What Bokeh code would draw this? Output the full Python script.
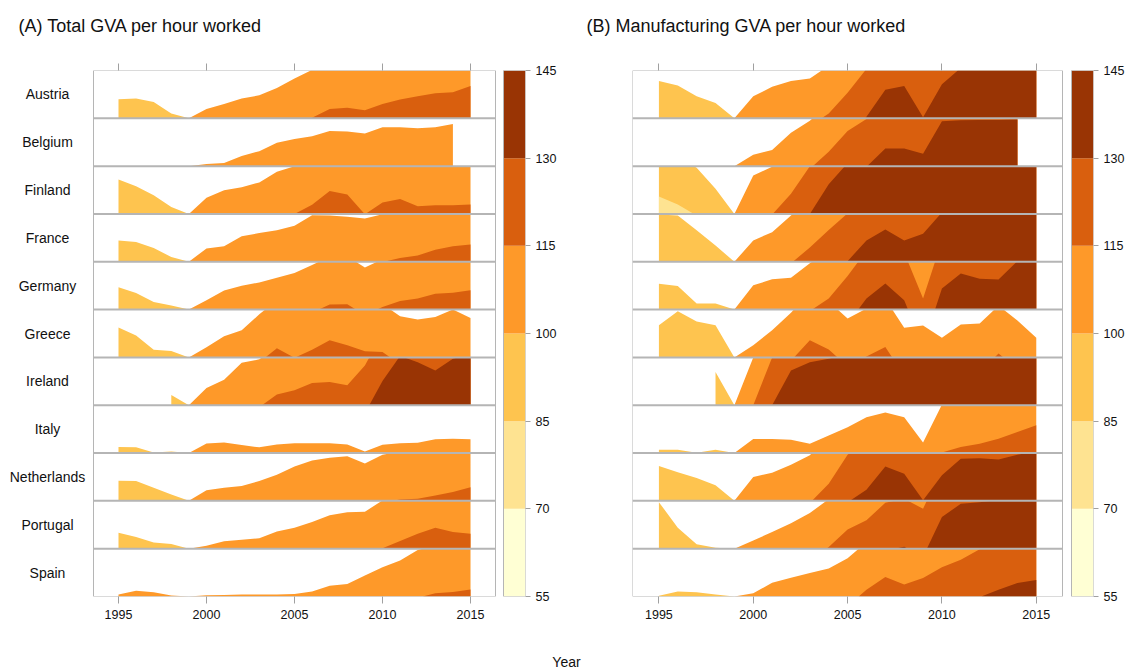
from bokeh.plotting import figure
from bokeh.models import Range1d, LinearAxis, FixedTicker, ColumnDataSource
from bokeh.layouts import row, column
from bokeh.embed import file_html
from bokeh.resources import INLINE
from bokeh.core.properties import value

# Labour productivity indices (1999 = 100), 1995-2015
years = list(range(1995, 2016))
countries = ["Austria", "Belgium", "Finland", "France", "Germany", "Greece",
             "Ireland", "Italy", "Netherlands", "Portugal", "Spain"]
panel_titles = ["(A) Total GVA per hour worked", "(B) Manufacturing GVA per hour worked"]

# (A) Total GVA per hour worked
austria_total = [94.0, 93.8, 94.9, 98.5, 100, 102.9, 104.5, 106.2, 107.2, 109.5, 112.5,
                 115.2, 117.9, 118.3, 117.5, 119.5, 120.9, 121.9, 122.9, 123.2, 125.1]
belgium_total = [None, None, None, None, 100, 100.7, 101.0, 103.2, 104.7, 107.3, 108.5,
                 109.4, 111.0, 110.9, 110.2, 112.2, 112.2, 111.9, 112.2, 113.2, None]
finland_total = [89.2, 91.3, 94.1, 97.8, 100, 105.1, 107.4, 108.4, 109.9, 113.2, 115.0,
                 117.9, 122.2, 121.1, 114.9, 118.6, 119.7, 117.4, 117.7, 117.7, 118.0]
france_total = [93.3, 93.8, 95.7, 98.5, 100, 104.2, 104.9, 108.0, 109.0, 109.9, 111.3,
                114.6, 114.5, 114.1, 113.6, 114.9, 116.2, 117.0, 118.8, 119.9, 120.4]
germany_total = [93.0, 94.8, 97.6, 98.7, 100, 102.9, 106.0, 107.5, 108.5, 110.0, 111.5,
                 114.0, 116.6, 116.7, 113.2, 115.8, 117.7, 118.5, 120.0, 120.3, 121.1]
greece_total = [90.6, 93.1, 97.6, 98.0, 100, 103.2, 106.6, 108.5, 113.5, 117.9, 114.9,
                117.4, 120.4, 118.8, 116.9, 116.7, 112.9, 111.9, 112.7, 115.0, 112.4]
ireland_total = [None, None, None, 96.8, 100, 105.4, 108.0, 113.3, 114.4, 118.4, 119.7,
                 122.0, 122.3, 121.3, 127.5, 137.6, 145.5, 143.5, 140.9, 144.6, 146.0]
italy_total = [98.1, 98.2, 99.8, 99.5, 100, 103.0, 103.3, 102.5, 101.8, 102.7, 103.1,
               103.1, 103.1, 102.7, 100.5, 102.6, 103.1, 103.2, 104.3, 104.5, 104.3]
netherlands_total = [93.7, 93.8, 95.9, 98.0, 100, 103.3, 104.1, 104.7, 106.2, 108.2, 110.8,
                     112.7, 113.5, 114.0, 111.7, 114.5, 115.4, 115.7, 116.7, 117.8, 119.3]
portugal_total = [95.0, 96.3, 98.1, 98.5, 100, 100.9, 102.3, 102.8, 103.3, 105.4, 106.6,
                  108.4, 110.5, 111.4, 111.6, 115.1, 117.4, 119.7, 121.6, 120.2, 119.7]
spain_total = [100.6, 101.8, 101.3, 100.3, 100, 100.4, 100.5, 100.6, 100.6, 100.6, 100.8,
               101.6, 103.4, 103.9, 106.6, 109.2, 111.3, 114.6, 116.0, 116.4, 117.2]

# (B) Manufacturing GVA per hour worked
austria_mfg = [88.3, 89.7, 93.1, 95.2, 100, 106.9, 109.9, 111.7, 112.5, 116.5, 123.0,
               130.5, 139.0, 140.1, 130.3, 140.7, 145.8, 147.0, 147.5, 148.2, 149.0]
belgium_mfg = [None, None, None, None, 100, 103.6, 105.1, 110.5, 114.2, 119.5, 126.0,
               129.8, 135.5, 135.5, 133.9, 144.1, 144.4, 144.5, 144.5, 144.6, None]
finland_mfg = [79.5, 82.0, 85.5, 92.1, 100, 112.1, 114.8, 121.3, 130.0, 139.3, 146.0,
               147.0, 149.0, 150.0, 146.0, 150.0, 151.0, 150.0, 151.0, 151.0, 152.0]
france_mfg = [85.2, 85.5, 90.1, 94.9, 100, 106.7, 109.3, 114.5, 119.5, 125.0, 130.2,
              136.7, 140.1, 136.7, 138.8, 145.5, 146.0, 147.0, 148.0, 149.0, 150.0]
germany_mfg = [91.9, 92.6, 98.1, 98.1, 100, 107.6, 109.5, 110.0, 114.5, 118.5, 125.5,
               133.5, 138.2, 132.9, 118.5, 136.6, 141.3, 139.7, 139.4, 145.2, 146.0]
greece_mfg = [89.9, 85.5, 88.7, 89.9, 100, 103.8, 108.5, 114.0, 120.4, 117.5, 112.2,
              115.3, 118.3, 109.3, 110.0, 106.2, 110.3, 110.6, 116.2, 111.6, 106.2]
ireland_mfg = [None, None, None, 89.6, 100, 115.0, 130.0, 140.9, 143.5, 144.6, 146.0,
               147.0, 148.0, 148.0, 150.0, 150.0, 152.0, 153.0, 153.0, 154.0, 156.0]
italy_mfg = [99.0, 99.0, 99.9, 99.0, 100, 104.4, 104.4, 104.2, 102.9, 105.5, 108.1,
             111.2, 112.7, 111.2, 103.3, 115.2, 116.9, 117.9, 119.5, 121.6, 123.7]
netherlands_mfg = [89.1, 91.0, 92.8, 95.1, 100, 107.5, 108.8, 111.3, 114.3, 120.4, 129.5,
                   133.5, 140.8, 138.5, 130.2, 138.0, 143.2, 143.4, 143.0, 144.5, 145.5]
portugal_mfg = [85.4, 93.4, 98.6, 99.7, 100, 102.6, 105.2, 108.0, 111.2, 115.5, 121.0,
                123.9, 129.4, 130.6, 127.5, 139.9, 144.1, 144.6, 145.2, 146.0, 146.0]
spain_mfg = [99.8, 98.4, 98.7, 99.4, 100, 101.0, 104.3, 105.9, 107.4, 108.8, 112.0,
             117.1, 121.1, 118.8, 120.8, 124.2, 126.5, 129.8, 132.1, 134.2, 135.2]

total_series = [austria_total, belgium_total, finland_total, france_total, germany_total,
                greece_total, ireland_total, italy_total, netherlands_total,
                portugal_total, spain_total]
mfg_series = [austria_mfg, belgium_mfg, finland_mfg, france_mfg, germany_mfg,
              greece_mfg, ireland_mfg, italy_mfg, netherlands_mfg,
              portugal_mfg, spain_mfg]

year_ticks = [1995, 2000, 2005, 2010, 2015]

# horizon settings: origin 100, bands 15 wide, three on each side
ORIGIN = 100
BAND = 15
cb_ticks = [55, 70, 85, 100, 115, 130, 145]
palette = ["#FFFFD4", "#FEE391", "#FEC44F", "#FE9929", "#D95F0E", "#993404"]
above_cols = palette[3:]
below_cols = palette[2::-1]

FONT = "Liberation Sans"
LINE_GREY = "#b5b5b5"
TICK_GREY = "#a0a0a0"
TEXT = "#111111"
N = len(countries)

PAGE_W, PAGE_H = 1128, 668
HEAD_H, FOOT_H = 50, 30
PANEL_H = PAGE_H - HEAD_H - FOOT_H
FRAME_TOP, FRAME_H = 70 - HEAD_H, 526


def densify(xs, vs):
    """Insert the points where the series crosses a band edge."""
    dx, dv = [xs[0]], [vs[0]]
    for x0, v0, x1, v1 in zip(xs, vs, xs[1:], vs[1:]):
        cuts = sorted(x0 + (L - v0) / (v1 - v0) * (x1 - x0)
                      for L in cb_ticks if (v0 - L) * (v1 - L) < 0)
        for c in cuts:
            dx.append(c)
            dv.append(v0 + (c - x0) / (x1 - x0) * (v1 - v0))
        dx.append(x1)
        dv.append(v1)
    return dx, dv


def strip(height):
    """A blank full-width band used for page-level captions."""
    s = figure(width=PAGE_W, height=height, output_backend="svg", toolbar_location=None,
               x_range=Range1d(0, PAGE_W), y_range=Range1d(0, height),
               x_axis_location=None, y_axis_location=None,
               min_border_left=0, min_border_right=0,
               min_border_top=0, min_border_bottom=0)
    s.outline_line_color = None
    s.xgrid.visible = False
    s.ygrid.visible = False
    return s


def make_panel(series, width, frame_left, panel_left, panel_w, gap, bar, xlo, xhi,
               with_names):
    frame_right = panel_left + panel_w + gap + bar
    ppy = panel_w / (xhi - xlo)
    xstart = xlo - (panel_left - frame_left) / ppy
    xend = xhi + (gap + bar) / ppy
    p = figure(width=width, height=PANEL_H, output_backend="svg", toolbar_location=None,
               x_range=Range1d(xstart, xend), y_range=Range1d(0, N),
               x_axis_location=None, y_axis_location=None,
               min_border_left=frame_left, min_border_right=width - frame_right,
               min_border_top=FRAME_TOP,
               min_border_bottom=PANEL_H - FRAME_TOP - FRAME_H)
    p.outline_line_color = None
    p.xgrid.visible = False
    p.ygrid.visible = False
    p.background_fill_color = "white"
    p.border_fill_color = "white"

    # horizon bands, one row per country
    for r, vals in enumerate(series):
        base = N - 1 - r
        pts = [(y, v) for y, v in zip(years, vals) if v is not None]
        xs, vs = densify([a for a, _ in pts], [b for _, b in pts])
        for k in range(3):
            lo = ORIGIN + BAND * k
            h = [min(max(v - lo, 0), BAND) / BAND for v in vs]
            if max(h) > 0:
                p.varea(x=xs, y1=[base] * len(xs), y2=[base + a for a in h],
                        fill_color=above_cols[k])
        for k in range(3):
            hi = ORIGIN - BAND * k
            h = [min(max(hi - v, 0), BAND) / BAND for v in vs]
            if max(h) > 0:
                p.varea(x=xs, y1=[base] * len(xs), y2=[base + a for a in h],
                        fill_color=below_cols[k])

    # row separators and panel border
    p.segment(x0=[xlo] * (N - 1), x1=[xhi] * (N - 1), y0=list(range(1, N)),
              y1=list(range(1, N)), line_color=LINE_GREY, line_width=2)
    p.quad(left=[xlo], right=[xhi], bottom=[0], top=[N], fill_color=None,
           line_color=LINE_GREY, line_width=1)

    # colour key
    p.extra_y_ranges = {"cb": Range1d(cb_ticks[0], cb_ticks[-1])}
    cb_left = xhi + gap / ppy
    p.quad(left=[cb_left] * 6, right=[xend] * 6, bottom=cb_ticks[:-1], top=cb_ticks[1:],
           fill_color=palette, line_color=None, y_range_name="cb")
    p.quad(left=[cb_left], right=[xend], bottom=[cb_ticks[0]], top=[cb_ticks[-1]],
           fill_color=None, line_color=LINE_GREY, line_width=1, y_range_name="cb")

    cb_axis = LinearAxis(y_range_name="cb", ticker=FixedTicker(ticks=cb_ticks))
    xb = LinearAxis(ticker=FixedTicker(ticks=year_ticks))
    xt = LinearAxis(ticker=FixedTicker(ticks=year_ticks))
    for ax in (cb_axis, xb, xt):
        ax.axis_line_color = None
        ax.major_tick_line_color = TICK_GREY
        ax.major_tick_in = 0
        ax.minor_tick_line_color = None
        ax.major_label_text_font = FONT
        ax.major_label_text_font_size = "12.5px"
        ax.major_label_text_color = TEXT
    cb_axis.major_tick_out = 5
    cb_axis.major_label_standoff = 5
    xb.major_tick_out = 7
    xb.major_label_standoff = 6
    xt.major_tick_out = 7
    xt.major_label_standoff = 0
    xt.major_label_text_font_size = "0px"
    xt.major_label_text_color = None
    p.add_layout(cb_axis, "right")
    p.add_layout(xb, "below")
    p.add_layout(xt, "above")

    if with_names:
        src = ColumnDataSource(dict(
            x=[xlo - 46 / ppy] * N,
            y=[N - 1 - r + 0.5 for r in range(N)],
            name=countries))
        p.text(x="x", y="y", text="name", source=src, text_font=value(FONT),
               text_font_size="14px", text_color=TEXT, text_align="center",
               text_baseline="middle")
    return p


pa = make_panel(total_series, 584, 0, 93, 402, 8, 22, 1993.58, 2016.42, True)
pb = make_panel(mfg_series, 544, 48, 48, 430, 9, 22, 1993.6, 2016.39, False)

# panel headings
head = strip(HEAD_H)
head.text(x=[18, 586], y=[HEAD_H - 25] * 2, text=panel_titles, text_font=value(FONT),
          text_font_size="18px", text_color=TEXT, text_align="left",
          text_baseline="middle")

# shared x-axis caption under both panels
foot = strip(FOOT_H)
foot.text(x=[566], y=[7], text=["Year"], text_font=value(FONT), text_font_size="14px",
          text_color=TEXT, text_align="center", text_baseline="middle")

layout = column(head, row(pa, pb), foot)
open("out.html", "w").write(file_html(layout, INLINE))
